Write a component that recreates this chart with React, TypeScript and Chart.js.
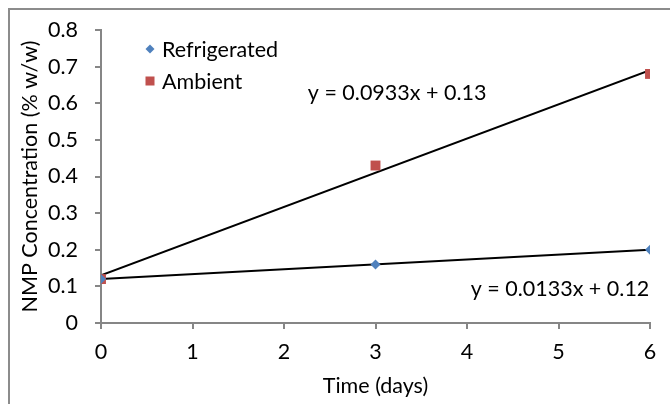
import React, { useEffect, useRef } from "react";
import { Chart, registerables } from "chart.js";

Chart.register(...registerables);

const days = [0, 3, 6];
const refrigerated = [0.12, 0.16, 0.2];
const ambient = [0.12, 0.43, 0.68];
const trendDays = [0, 6];
const refrigeratedTrend = [0.12, 0.2];
const ambientTrend = [0.13, 0.69];
const yTicks = [0, 0.1, 0.2, 0.3, 0.4, 0.5, 0.6, 0.7, 0.8];
const xTicks = [0, 1, 2, 3, 4, 5, 6];
const seriesNames = ["Refrigerated", "Ambient"];
const equations = ["y = 0.0133x + 0.12", "y = 0.0933x + 0.13"];

const FONT = "Lato, 'Open Sans', sans-serif";
const FS = 21.5;
const AXIS = "#868686";
const BLUE = "#4F81BD";
const RED = "#C0504D";

const overlay = {
  id: "overlay",
  afterDraw(chart: any) {
    const { ctx, scales } = chart;
    const xs = scales.x;
    const ys = scales.y;
    ctx.save();
    // outer chart border (top and left visible)
    ctx.strokeStyle = "#8c8c8c";
    ctx.lineWidth = 2;
    ctx.beginPath();
    ctx.moveTo(9, 404);
    ctx.lineTo(9, 9);
    ctx.lineTo(670, 9);
    ctx.stroke();

    ctx.font = `${FS}px ${FONT}`;
    ctx.fillStyle = "#000";
    ctx.textBaseline = "middle";
    ctx.textAlign = "left";
    // legend
    const lx = 150;
    const ly = [49, 81];
    ctx.fillStyle = BLUE;
    ctx.beginPath();
    ctx.moveTo(lx, ly[0] - 4.5);
    ctx.lineTo(lx + 4.5, ly[0]);
    ctx.lineTo(lx, ly[0] + 4.5);
    ctx.lineTo(lx - 4.5, ly[0]);
    ctx.closePath();
    ctx.fill();
    ctx.fillStyle = RED;
    ctx.fillRect(lx - 4.5, ly[1] - 4.5, 9, 9);
    ctx.fillStyle = "#000";
    ctx.fillText(seriesNames[0], 162, ly[0] + 1);
    ctx.fillText(seriesNames[1], 162, ly[1] + 1);

    // equations
    ctx.fillText(equations[1], xs.getPixelForValue(2.26), ys.getPixelForValue(0.628));
    ctx.fillText(equations[0], xs.getPixelForValue(4.04), ys.getPixelForValue(0.093));
    ctx.restore();
  },
};

export default function App() {
  const ref = useRef<HTMLCanvasElement>(null);
  useEffect(() => {
    document.body.style.margin = "0";
    const pts = (xsArr: number[], ysArr: number[]) => xsArr.map((x, i) => ({ x, y: ysArr[i] }));
    const chart = new Chart(ref.current!, {
      type: "scatter",
      data: {
        datasets: [
          {
            label: seriesNames[0],
            data: pts(days, refrigerated),
            pointStyle: "rectRot",
            pointRadius: 5,
            backgroundColor: BLUE,
            borderColor: BLUE,
            borderWidth: 0,
            order: 0,
          },
          {
            label: seriesNames[1],
            data: pts(days, ambient),
            pointStyle: "rect",
            pointRadius: 7,
            backgroundColor: RED,
            borderColor: RED,
            borderWidth: 0,
            order: 0,
          },
          {
            label: "trend1",
            data: pts(trendDays, refrigeratedTrend),
            showLine: true,
            pointRadius: 0,
            borderColor: "#000",
            borderWidth: 2,
            order: 1,
          },
          {
            label: "trend2",
            data: pts(trendDays, ambientTrend),
            showLine: true,
            pointRadius: 0,
            borderColor: "#000",
            borderWidth: 2,
            order: 1,
          },
        ],
      },
      options: {
        animation: false,
        responsive: false,
        maintainAspectRatio: false,
        layout: { padding: { left: 0, right: 20, top: 30, bottom: 0 } },
        plugins: { legend: { display: false }, tooltip: { enabled: false } },
        scales: {
          x: {
            type: "linear",
            min: 0,
            max: 6,
            afterFit: (s: any) => {
              s.height = 81;
            },
            afterBuildTicks: (s: any) => {
              s.ticks = xTicks.map((v) => ({ value: v }));
            },
            ticks: {
              font: { family: FONT, size: FS },
              color: "#000",
              padding: 10,
              callback: (v: any) => String(v),
            },
            grid: { drawOnChartArea: false, drawTicks: true, tickLength: 6, color: AXIS, lineWidth: 2 },
            border: { display: true, color: AXIS, width: 2 },
            title: {
              display: true,
              text: "Time (days)",
              font: { family: FONT, size: FS },
              color: "#000",
              padding: { top: 0, bottom: 5 },
            },
          },
          y: {
            type: "linear",
            min: 0,
            max: 0.8,
            afterFit: (s: any) => {
              s.width = 101;
            },
            afterBuildTicks: (s: any) => {
              s.ticks = yTicks.map((v) => ({ value: v }));
            },
            ticks: {
              font: { family: FONT, size: FS },
              color: "#000",
              padding: 17,
              callback: (v: any) => String(Number(Number(v).toFixed(1))),
            },
            grid: { drawOnChartArea: false, drawTicks: true, tickLength: 6, color: AXIS, lineWidth: 2 },
            border: { display: true, color: AXIS, width: 2 },
            title: {
              display: true,
              text: "NMP Concentration (% w/w)",
              font: { family: FONT, size: FS },
              color: "#000",
              padding: { top: 17, bottom: 0 },
            },
          },
        },
      },
      plugins: [overlay],
    } as any);
    return () => chart.destroy();
  }, []);
  return (
    <div style={{ position: "fixed", left: 0, top: 0, width: 670, height: 404, background: "#fff" }}>
      <canvas ref={ref} width={670} height={404} style={{ width: 670, height: 404 }} />
    </div>
  );
}
